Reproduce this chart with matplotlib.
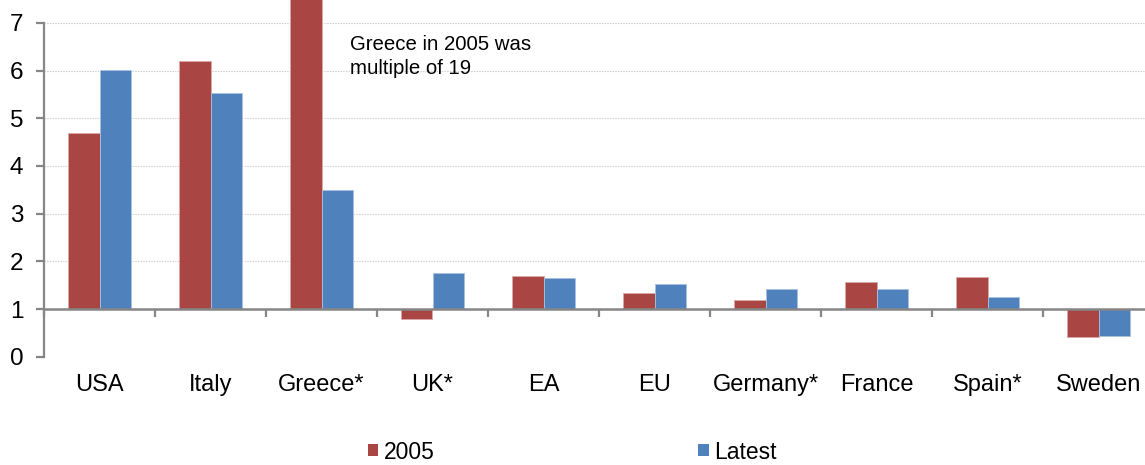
import matplotlib
matplotlib.use("Agg")
import matplotlib.pyplot as plt
import numpy as np
from matplotlib.patches import Patch

plt.rcParams['font.family'] = ['Liberation Sans', 'DejaVu Sans']

categories = ["USA", "Italy", "Greece*", "UK*", "EA", "EU", "Germany*", "France", "Spain*", "Sweden"]
values_2005 = [4.69, 6.20, 19.0, 0.79, 1.70, 1.34, 1.18, 1.57, 1.68, 0.41]
values_latest = [6.01, 5.53, 3.50, 1.76, 1.66, 1.53, 1.43, 1.42, 1.26, 0.43]
series_labels = ["2005", "Latest"]
yticks = [0, 1, 2, 3, 4, 5, 6, 7]
baseline = 1.0
annotation = "Greece in 2005 was\nmultiple of 19"

RED = "#A94644"
BLUE = "#4F81BD"
GREY = "#868686"

fig = plt.figure(figsize=(11.45, 4.65), dpi=100)
ax = fig.add_axes([44/1145, 108.3/465, 1110/1145, 356.7/465])

x = np.arange(len(categories))
w = 0.288
b1 = np.array(values_2005) - baseline
b2 = np.array(values_latest) - baseline
ax.bar(x - w/2, b1, w, bottom=baseline, color=RED, edgecolor="#D9A9A8", linewidth=0.6, zorder=3)
ax.bar(x + w/2, b2, w, bottom=baseline, color=BLUE, edgecolor="#A9C1E0", linewidth=0.6, zorder=3)

ax.set_xlim(-0.5, len(categories) - 0.5)
ax.set_ylim(0, 7.48)

# grid
for yv in yticks:
    ax.axhline(yv, color="#CDCDCD", lw=0.8, ls=(0, (1.2, 1.2)), zorder=1)

for s in ["top", "right"]:
    ax.spines[s].set_visible(False)
ax.spines["left"].set_bounds(0, 7)
ax.spines["left"].set_color(GREY)
ax.spines["left"].set_linewidth(1.6)
ax.spines["bottom"].set_position(("data", baseline))
ax.spines["bottom"].set_color(GREY)
ax.spines["bottom"].set_linewidth(1.8)
ax.spines["bottom"].set_zorder(4)

ax.set_yticks(yticks)
ax.set_yticklabels([str(v) for v in yticks], fontsize=17.5)
ax.tick_params(axis="y", direction="out", length=6, width=1.6, color=GREY, pad=9)

ax.set_xticks(np.arange(len(categories) + 1) - 0.5)
ax.set_xticklabels([])
ax.tick_params(axis="x", which="major", direction="out", length=6, width=1.6, color=GREY)
ax.set_xticks(x, minor=True)
ax.set_xticklabels(categories, minor=True, fontsize=17)
ax.tick_params(axis="x", which="minor", length=0, pad=47)

ax.text(2.26, 6.74, annotation, fontsize=14.7, va="top", ha="left",
        linespacing=1.3, zorder=5)

handles = [Patch(facecolor=RED, edgecolor="none"), Patch(facecolor=BLUE, edgecolor="none")]
fig.legend(handles, series_labels, loc="center left", bbox_to_anchor=(368/1145, 1 - 452/465),
           ncol=2, frameon=False, fontsize=16.5, handlelength=0.45, handleheight=0.45,
           handletextpad=0.25, columnspacing=11.5, borderpad=0, borderaxespad=0)

fig.savefig("out.png", dpi=100)
